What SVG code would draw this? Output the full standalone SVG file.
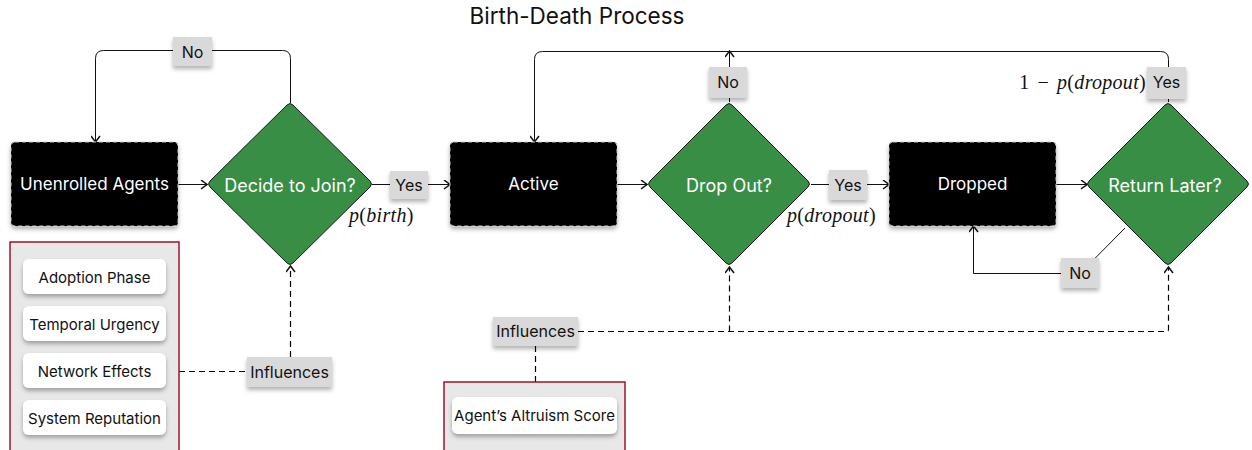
<svg xmlns="http://www.w3.org/2000/svg" width="1252" height="450" viewBox="0 0 1252 450">
<defs>
<filter id="sh" x="-20%" y="-20%" width="140%" height="150%">
<feDropShadow dx="0" dy="3" stdDeviation="2" flood-color="#000" flood-opacity="0.3"/>
</filter>
<marker id="ar" viewBox="0 0 10 10" refX="9" refY="5" markerWidth="10" markerHeight="10" markerUnits="userSpaceOnUse" orient="auto">
<path d="M3,0.5 L9,5 L3,9.5" fill="none" stroke="#111" stroke-width="1.5"/>
</marker>
<style>
text{font-family:Inter,"Liberation Sans",sans-serif;}
.state{fill:#000;stroke:#c8c8c8;stroke-width:1;stroke-dasharray:4 3;filter:url(#sh);}
.st{fill:#fff;font-size:17px;text-anchor:middle;dominant-baseline:central;}
.dt{fill:#fff;font-size:18px;text-anchor:middle;dominant-baseline:central;}
.dia{fill:#388e45;stroke:#1a1a1a;stroke-width:1;}
.lbl{fill:#d9d9d9;filter:url(#sh);}
.lt{fill:#111;font-size:16px;text-anchor:middle;dominant-baseline:central;}
.grp{fill:#e8e8e8;stroke:#a0142a;stroke-width:1.5;}
.item{fill:#fff;filter:url(#sh);}
.it{fill:#111;font-size:15px;text-anchor:middle;dominant-baseline:central;}
.e{fill:none;stroke:#111;stroke-width:1;}
.d{fill:none;stroke:#000;stroke-width:1.2;stroke-dasharray:6 4;}
.m{font-family:"Liberation Serif","DejaVu Serif",serif;font-size:20px;fill:#111;letter-spacing:0.3px;}
</style>
</defs>
<rect width="1252" height="450" fill="#fff"/>
<text x="577" y="15" font-size="22.5" fill="#111" text-anchor="middle" dominant-baseline="central">Birth-Death Process</text>

<g id="connectors">
<path class="e" d="M178,184.5 L207,184.5" marker-end="url(#ar)"/>
<path class="e" d="M290.5,103 L290.5,58.5 Q290.5,50.5 282.5,50.5 L103.5,50.5 Q95.5,50.5 95.5,58.5 L95.5,142" marker-end="url(#ar)"/>
<path class="e" d="M372,184.5 L450,184.5" marker-end="url(#ar)"/>
<path class="e" d="M617,184.5 L647,184.5" marker-end="url(#ar)"/>
<path class="e" d="M729.5,102 L729.5,51" marker-end="url(#ar)"/>
<path class="e" d="M811,184.5 L889,184.5" marker-end="url(#ar)"/>
<path class="e" d="M1056,184.5 L1087,184.5" marker-end="url(#ar)"/>
<path class="e" d="M1168.5,102 L1168.5,59.5 Q1168.5,51.5 1160.5,51.5 L542.5,51.5 Q534.5,51.5 534.5,59.5 L534.5,142" marker-end="url(#ar)"/>
<path class="e" d="M1125,228 L1080,273.5 L973.5,273.5 L973.5,226" marker-end="url(#ar)"/>
<path class="d" d="M290.5,357 L290.5,266" marker-end="url(#ar)"/>
<path class="d" d="M179,371.5 L247,371.5"/>
<path class="d" d="M578,331.5 L1166.5,331.5 Q1168.5,331.5 1168.5,329.5 L1168.5,267" marker-end="url(#ar)"/>
<path class="d" d="M729.5,331.5 L729.5,267" marker-end="url(#ar)"/>
<path class="d" d="M535.5,346 L535.5,382"/>
</g>

<g id="unenrolled">
<rect class="state" x="11" y="142" width="167" height="84" rx="4"/>
<text class="st" x="94.5" y="184" font-size="16.5">Unenrolled Agents</text>
</g>
<g id="decide">
<path class="dia" d="M293,105 L370,181 Q373,184 370,187 L293,263 Q290,266 287,263 L210,187 Q207,184 210,181 L287,105 Q290,102 293,105 Z"/>
<text class="dt" x="290" y="185">Decide to Join?</text>
</g>
<g id="active">
<rect class="state" x="450" y="142" width="167" height="84" rx="4"/>
<text class="st" x="533.5" y="184">Active</text>
</g>
<g id="dropout">
<path class="dia" d="M732,105 L808,181 Q811,184 808,187 L732,263 Q729,266 726,263 L650,187 Q647,184 650,181 L726,105 Q729,102 732,105 Z"/>
<text class="dt" x="729" y="185">Drop Out?</text>
</g>
<g id="dropped">
<rect class="state" x="889" y="142" width="167" height="84" rx="4"/>
<text class="st" x="972.5" y="184">Dropped</text>
</g>
<g id="return">
<path class="dia" d="M1171,105 L1247,181 Q1250,184 1247,187 L1171,263 Q1168,266 1165,263 L1089,187 Q1086,184 1089,181 L1165,105 Q1168,102 1171,105 Z"/>
<text class="dt" x="1165" y="185">Return Later?</text>
</g>

<g id="factors1">
<rect class="grp" x="10" y="242" width="169" height="220"/>
<rect class="item" x="23" y="259" width="143" height="35" rx="6"/>
<text class="it" x="94.5" y="277">Adoption Phase</text>
<rect class="item" x="23" y="306" width="143" height="35" rx="6"/>
<text class="it" x="94.5" y="324">Temporal Urgency</text>
<rect class="item" x="23" y="353" width="143" height="35" rx="6"/>
<text class="it" x="94.5" y="371">Network Effects</text>
<rect class="item" x="23" y="400" width="143" height="35" rx="6"/>
<text class="it" x="94.5" y="418">System Reputation</text>
</g>
<g id="factors2">
<rect class="grp" x="444" y="382" width="181" height="80"/>
<rect class="item" x="452" y="397" width="165" height="37" rx="6"/>
<text class="it" x="534.5" y="415.5">Agent’s Altruism Score</text>
</g>

<g id="labels">
<rect class="lbl" x="173" y="37" width="39" height="29"/>
<text class="lt" x="192.5" y="51.5">No</text>
<rect class="lbl" x="390" y="171" width="38" height="28"/>
<text class="lt" x="409" y="185">Yes</text>
<rect class="lbl" x="709" y="67" width="38" height="31"/>
<text class="lt" x="728" y="82">No</text>
<rect class="lbl" x="829" y="170" width="38" height="30"/>
<text class="lt" x="848" y="185">Yes</text>
<rect class="lbl" x="1147" y="67" width="39" height="32"/>
<text class="lt" x="1166.5" y="82">Yes</text>
<rect class="lbl" x="1061" y="258" width="38" height="30"/>
<text class="lt" x="1080" y="273">No</text>
<rect class="lbl" x="247" y="357" width="85" height="30"/>
<text class="lt" x="289.5" y="372" font-size="17.5">Influences</text>
<rect class="lbl" x="493" y="317" width="85" height="29"/>
<text class="lt" x="535.5" y="331" font-size="17.5">Influences</text>
<text class="m" x="349" y="222"><tspan font-style="italic">p</tspan>(<tspan font-style="italic">birth</tspan>)</text>
<text class="m" x="787" y="222"><tspan font-style="italic">p</tspan>(<tspan font-style="italic">dropout</tspan>)</text>
<text class="m" x="1146" y="89" text-anchor="end">1<tspan dx="8">−</tspan><tspan dx="8" font-style="italic">p</tspan>(<tspan font-style="italic">dropout</tspan>)</text>
</g>
</svg>
